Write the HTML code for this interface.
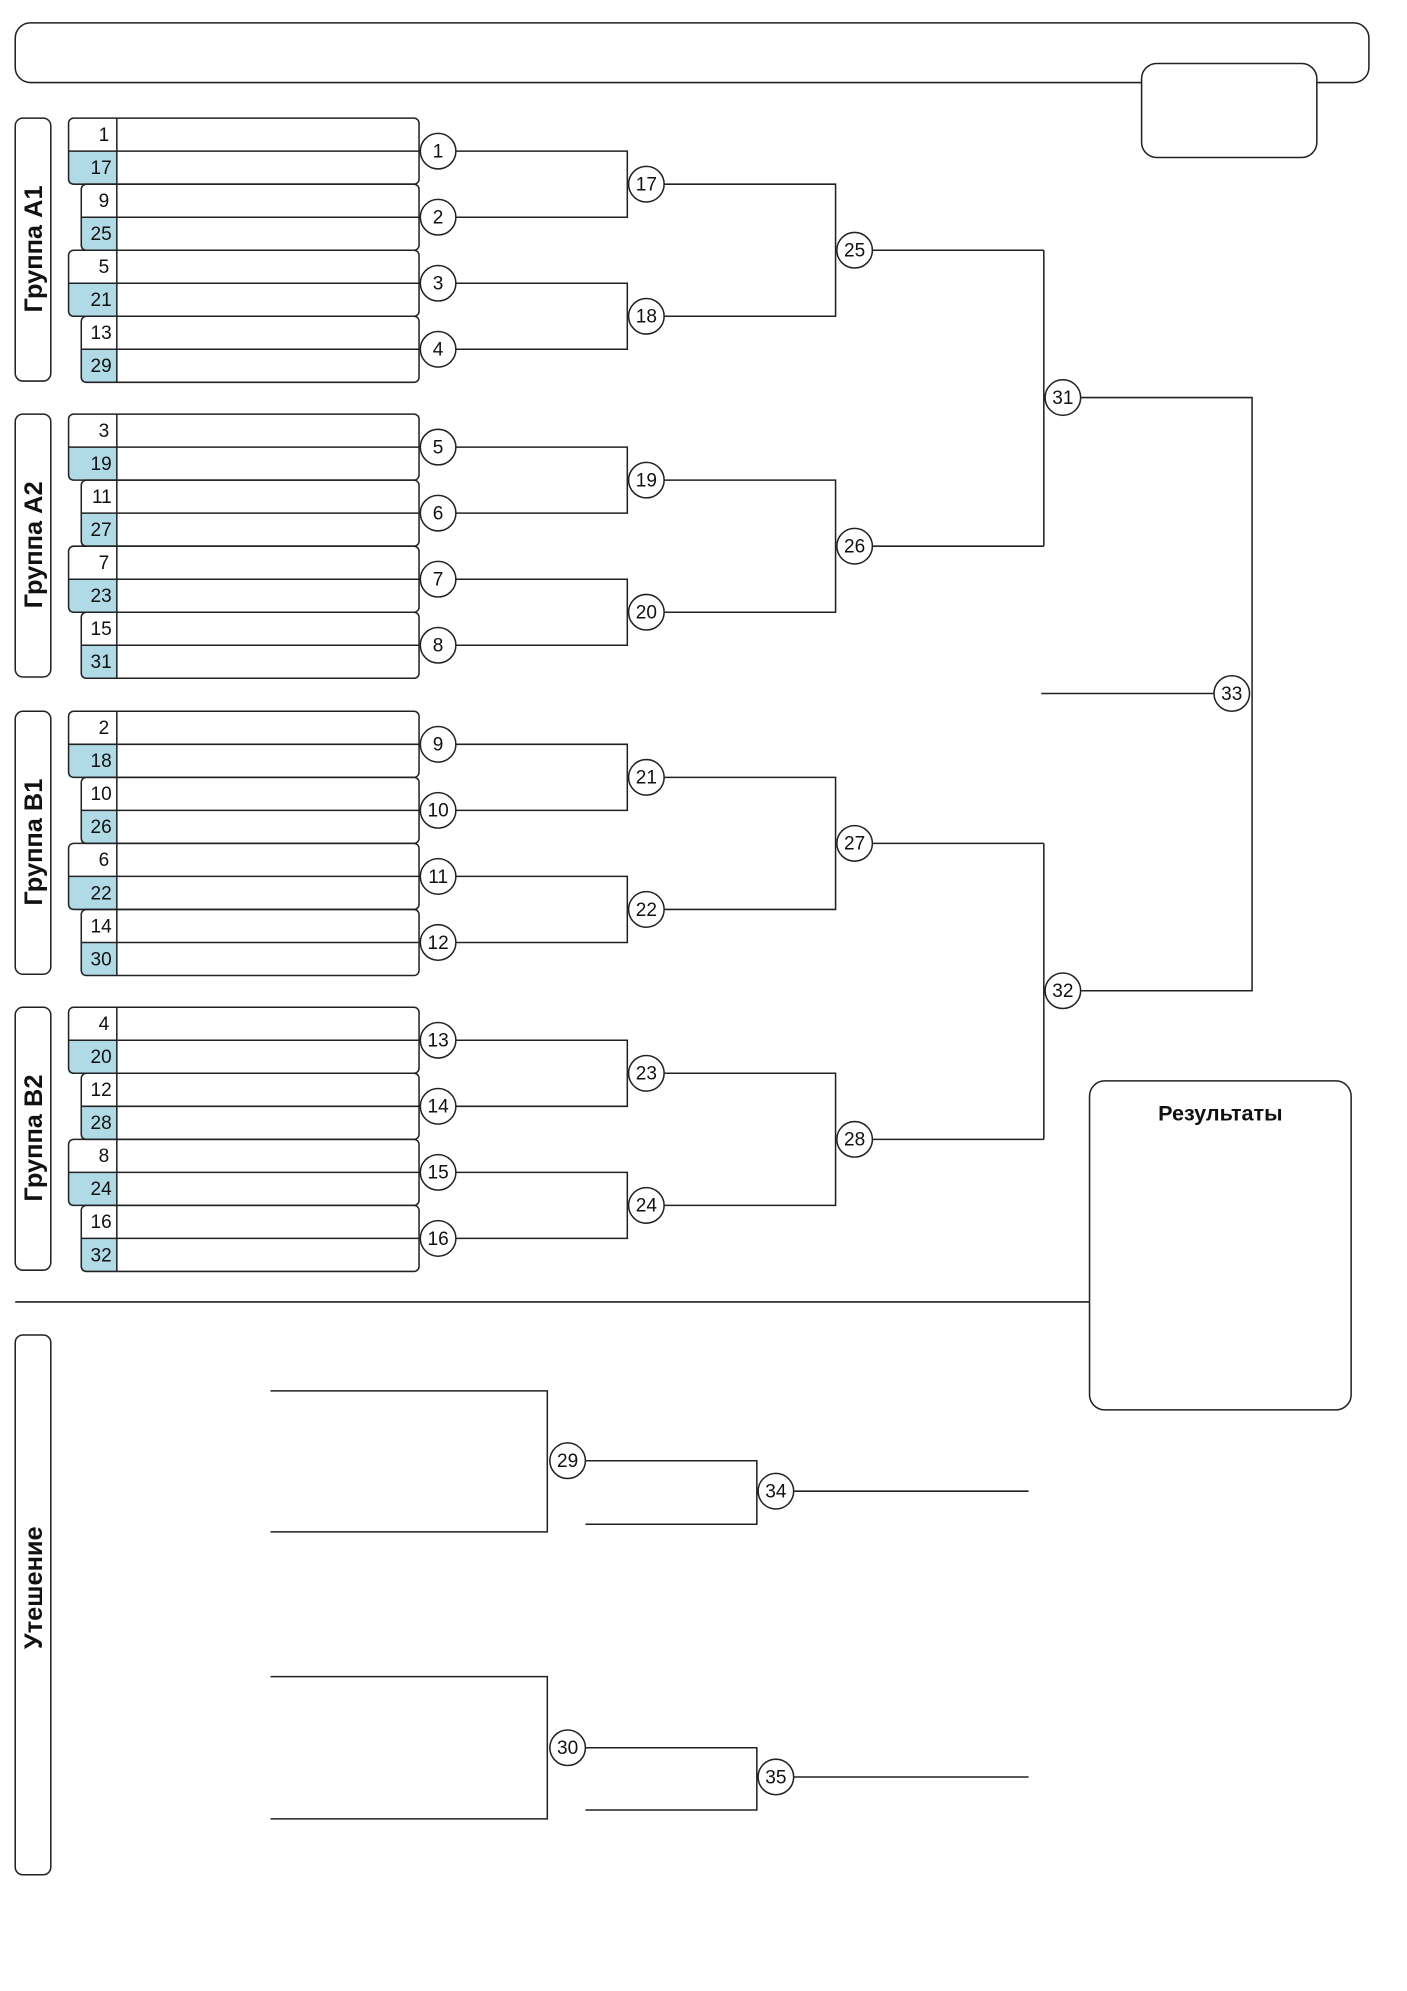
<!DOCTYPE html>
<html><head><meta charset="utf-8"><style>
html,body{margin:0;padding:0;background:#fff}
svg{display:block}
text{font-family:"Liberation Sans",Arial,sans-serif;fill:#111}
.n{font-size:15px;text-anchor:end}
.c{font-size:15px;text-anchor:middle}
.g{font-size:20px;font-weight:bold;text-anchor:middle}
</style></head><body>
<svg width="1407" height="1991" viewBox="0 0 1108 1567.5" preserveAspectRatio="none" xmlns="http://www.w3.org/2000/svg">
<defs>
<g id="grp" fill="none" stroke="#222" stroke-width="1.2">
  <rect x="12" y="0" width="28" height="207" rx="6" fill="#fff"/>
  <rect x="54" y="26" width="38" height="26" fill="#b0dbe6" stroke="none"/>
  <rect x="64" y="78" width="28" height="26" fill="#b0dbe6" stroke="none"/>
  <rect x="54" y="130" width="38" height="26" fill="#b0dbe6" stroke="none"/>
  <rect x="64" y="182" width="28" height="26" fill="#b0dbe6" stroke="none"/>
  <rect x="54" y="0" width="276" height="52" rx="4"/>
  <rect x="64" y="52" width="266" height="52" rx="4"/>
  <rect x="54" y="104" width="276" height="52" rx="4"/>
  <rect x="64" y="156" width="266" height="52" rx="4"/>
  <path d="M54 26H330M64 78H330M54 130H330M64 182H330M92 0V208"/>
  <path d="M359 26H494V78H359M523 52H658V156H523M359 130H494V182H359M687 104H822"/>
  <circle cx="345" cy="26" r="14" fill="#fff"/>
  <circle cx="345" cy="78" r="14" fill="#fff"/>
  <circle cx="345" cy="130" r="14" fill="#fff"/>
  <circle cx="345" cy="182" r="14" fill="#fff"/>
  <circle cx="509" cy="52" r="14" fill="#fff"/>
  <circle cx="509" cy="156" r="14" fill="#fff"/>
  <circle cx="673" cy="104" r="14" fill="#fff"/>
</g>
</defs>

<g fill="none" stroke="#222" stroke-width="1.2">
  <rect x="12" y="18" width="1066" height="47" rx="12"/>
  <rect x="899" y="50" width="138" height="74" rx="12" fill="#fff"/>
  <path d="M12 1025H858"/>
  <rect x="858" y="851" width="206" height="259" rx="12" fill="#fff"/>
  <rect x="12" y="1051" width="28" height="425" rx="6"/>
  <path d="M822 197V430M822 664V897M851 313H986V780H851M820 546H956"/>
  <path d="M213 1095H431V1206H213M461 1150H596V1200H461M625 1174H810"/>
  <path d="M213 1320H431V1432H213M461 1376H596V1425H461M625 1399H810"/>
</g>

<use href="#grp" transform="translate(0,93)"/>
<use href="#grp" transform="translate(0,326)"/>
<use href="#grp" transform="translate(0,560)"/>
<use href="#grp" transform="translate(0,793)"/>

<g fill="#fff" stroke="#222" stroke-width="1.2">
  <circle cx="837" cy="313" r="14"/>
  <circle cx="837" cy="780" r="14"/>
  <circle cx="970" cy="546" r="14"/>
  <circle cx="447" cy="1150" r="14"/>
  <circle cx="611" cy="1174" r="14"/>
  <circle cx="447" cy="1376" r="14"/>
  <circle cx="611" cy="1399" r="14"/>
</g>

<text class="g" transform="translate(33,196) rotate(-90)">Группа A1</text>
<text class="g" transform="translate(33,429) rotate(-90)">Группа A2</text>
<text class="g" transform="translate(33,663) rotate(-90)">Группа B1</text>
<text class="g" transform="translate(33,896) rotate(-90)">Группа B2</text>
<text class="g" transform="translate(33,1250) rotate(-90)">Утешение</text>
<text x="961" y="882" style="font-size:17px;font-weight:bold;text-anchor:middle">Результаты</text>

<g class="n">
<text class="n" x="86" y="111">1</text><text class="n" x="88" y="137">17</text><text class="n" x="86" y="163">9</text><text class="n" x="88" y="189">25</text><text class="n" x="86" y="215">5</text><text class="n" x="88" y="241">21</text><text class="n" x="88" y="267">13</text><text class="n" x="88" y="293">29</text>
<text class="n" x="86" y="344">3</text><text class="n" x="88" y="370">19</text><text class="n" x="88" y="396">11</text><text class="n" x="88" y="422">27</text><text class="n" x="86" y="448">7</text><text class="n" x="88" y="474">23</text><text class="n" x="88" y="500">15</text><text class="n" x="88" y="526">31</text>
<text class="n" x="86" y="578">2</text><text class="n" x="88" y="604">18</text><text class="n" x="88" y="630">10</text><text class="n" x="88" y="656">26</text><text class="n" x="86" y="682">6</text><text class="n" x="88" y="708">22</text><text class="n" x="88" y="734">14</text><text class="n" x="88" y="760">30</text>
<text class="n" x="86" y="811">4</text><text class="n" x="88" y="837">20</text><text class="n" x="88" y="863">12</text><text class="n" x="88" y="889">28</text><text class="n" x="86" y="915">8</text><text class="n" x="88" y="941">24</text><text class="n" x="88" y="967">16</text><text class="n" x="88" y="993">32</text>
</g>

<text class="c" x="345" y="124">1</text><text class="c" x="345" y="176">2</text><text class="c" x="345" y="228">3</text><text class="c" x="345" y="280">4</text>
<text class="c" x="345" y="357">5</text><text class="c" x="345" y="409">6</text><text class="c" x="345" y="461">7</text><text class="c" x="345" y="513">8</text>
<text class="c" x="345" y="591">9</text><text class="c" x="345" y="643">10</text><text class="c" x="345" y="695">11</text><text class="c" x="345" y="747">12</text>
<text class="c" x="345" y="824">13</text><text class="c" x="345" y="876">14</text><text class="c" x="345" y="928">15</text><text class="c" x="345" y="980">16</text>
<text class="c" x="509" y="150">17</text><text class="c" x="509" y="254">18</text><text class="c" x="509" y="383">19</text><text class="c" x="509" y="487">20</text>
<text class="c" x="509" y="617">21</text><text class="c" x="509" y="721">22</text><text class="c" x="509" y="850">23</text><text class="c" x="509" y="954">24</text>
<text class="c" x="673" y="202">25</text><text class="c" x="673" y="435">26</text><text class="c" x="673" y="669">27</text><text class="c" x="673" y="902">28</text>
<text class="c" x="837" y="318">31</text><text class="c" x="837" y="785">32</text><text class="c" x="970" y="551">33</text>
<text class="c" x="447" y="1155">29</text><text class="c" x="611" y="1179">34</text><text class="c" x="447" y="1381">30</text><text class="c" x="611" y="1404">35</text>
</svg>
</body></html>
